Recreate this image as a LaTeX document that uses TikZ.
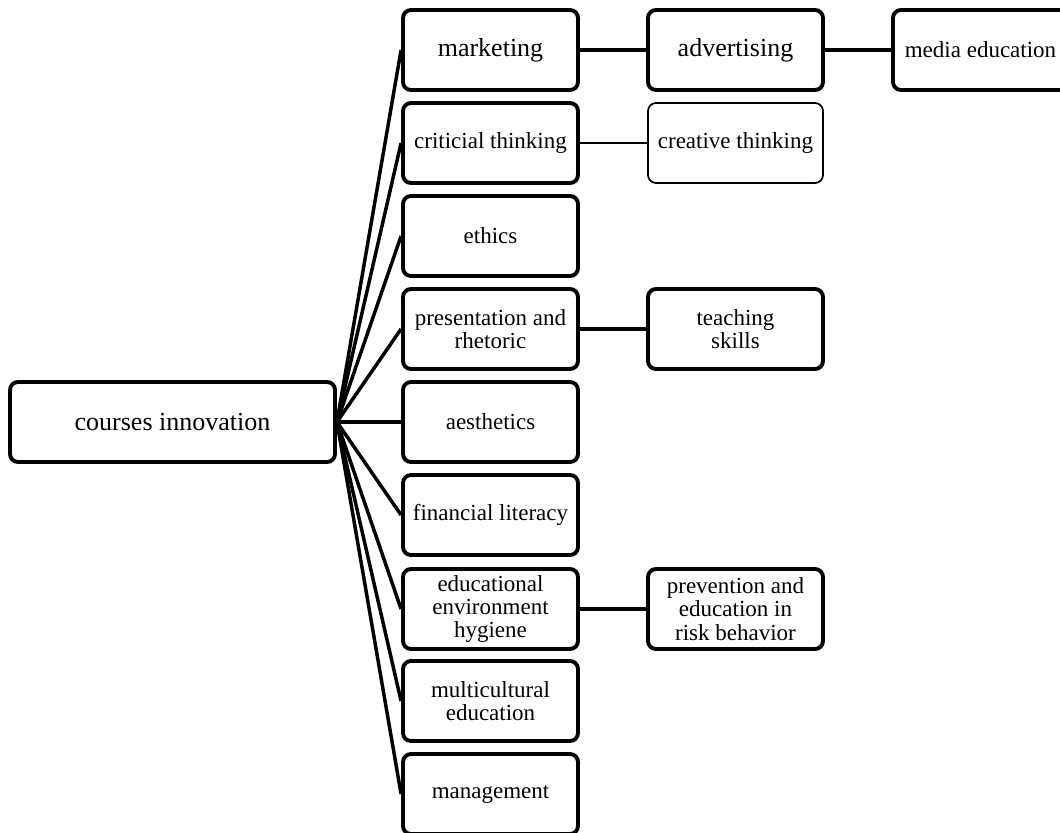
\documentclass[tikz,border=0pt]{standalone}
\usepackage{fontspec}
\setmainfont{Liberation Serif}
\begin{document}
\begin{tikzpicture}[
			x = 0.75pt, y = -0.75pt,
			course/.style = {draw, line width = 2.9pt, rounded corners = 6pt, align = center,
				minimum width = 131.25pt, minimum height = 60pt, inner sep = 2pt,
				font = \fontsize{17.25}{17.5}\selectfont},
			bigtext/.style = {font = \fontsize{19.5}{22}\selectfont},
			thinbox/.style = {line width = 1.3pt},
			link/.style = {line width = 2.6pt},
			thinlink/.style = {line width = 1.3pt}
			]

			\useasboundingbox (0,0) rectangle (1060,832);

			\node[course, bigtext, minimum width = 243.75pt] (root) at (172.5,422) {courses innovation};

			\node[course, bigtext] (mkt) at (490.5,50) {marketing};
			\node[course] (crit) at (490.5,143) {criticial thinking};
			\node[course] (eth) at (490.5,236) {ethics};
			\node[course] (pres) at (490.5,329) {presentation and\\rhetoric};
			\node[course] (aest) at (490.5,422) {aesthetics};
			\node[course] (fin) at (490.5,515) {financial literacy};
			\node[course] (hyg) at (490.5,609) {educational\\environment\\hygiene};
			\node[course] (multi) at (490.5,701) {multicultural\\education};
			\node[course] (mgmt) at (490.5,794) {management};

			\node[course, bigtext] (adv) at (735.5,50) {advertising};
			\node[course, thinbox] (creat) at (735.5,143) {creative thinking};
			\node[course] (teach) at (735.5,329) {teaching\\skills};
			\node[course] (risk) at (735.5,609) {prevention and\\education in\\risk behavior};

			\node[course] (media) at (980.5,50) {media education};

			\foreach \c in {mkt,crit,eth,pres,aest,fin,hyg,multi,mgmt}
				\draw[link] (root.east) -- (\c.west);

			\draw[link] (mkt) -- (adv);
			\draw[link] (adv) -- (media);
			\draw[thinlink] (crit) -- (creat);
			\draw[link] (pres) -- (teach);
			\draw[link] (hyg) -- (risk);

		\end{tikzpicture}
\end{document}
